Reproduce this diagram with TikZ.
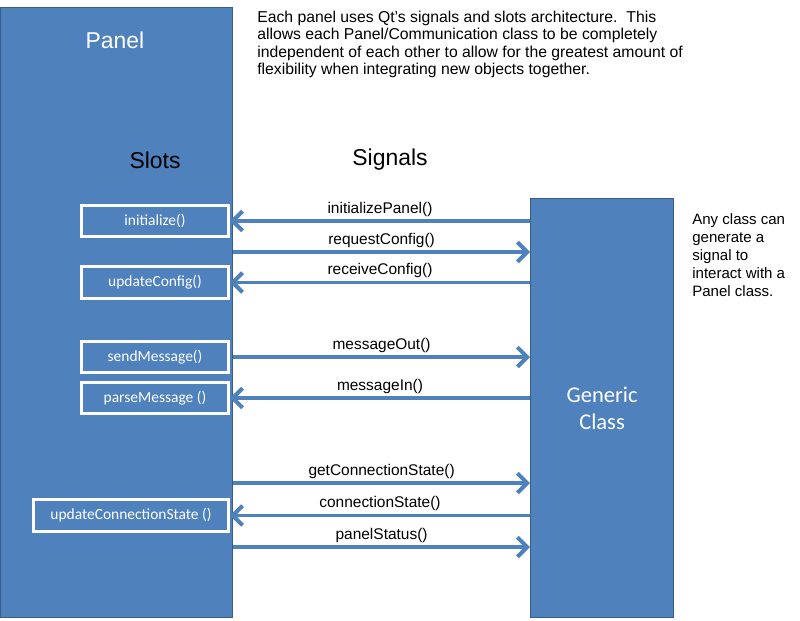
\documentclass[tikz,border=0pt]{standalone}
\usepackage{fontspec}
\setmainfont{Liberation Sans}
\newfontfamily\calibri{Carlito}
\usetikzlibrary{arrows.meta,positioning}
\definecolor{panelBlue}{RGB}{79,129,189}
\definecolor{panelEdge}{RGB}{56,93,138}

\begin{document}
\begin{tikzpicture}[x=0.025cm,y=-0.025cm,
    block/.style={draw=panelEdge, fill=panelBlue, line width=0.8pt,
      anchor=north west, inner sep=0pt},
    slotbox/.style={draw=white, fill=panelBlue, line width=2.2pt,
      minimum width=3.67cm, minimum height=0.79cm, inner sep=0pt,
      text=white, font=\calibri\fontsize{11}{13}\selectfont},
    sig/.style={panelBlue, line width=2.8pt,
      -{Straight Barb[length=7pt,width=14pt]}},
    siglabel/.style={midway, above=1pt, inner sep=1pt,
      text=black, font=\fontsize{11}{12}\selectfont},
    heading/.style={font=\fontsize{16.3}{19}\selectfont}]
  \useasboundingbox (0,0) rectangle (800,620);

  % the two classes
  \node[block, minimum width=5.8cm, minimum height=15.25cm] (panel) at (0,7) {};
  \node[block, minimum width=3.575cm, minimum height=10.475cm,
    text=white, align=center, font=\calibri\fontsize{16}{19}\selectfont]
    (generic) at (530,198) {Generic\\Class};

  \node[heading, text=white] (paneltitle) at (115,40) {Panel};
  \node[heading] (slots) at (155,160) {Slots};
  \node[heading] (signals) at (390,160) {Signals};

  \node[anchor=north west, inner sep=0pt, align=left,
    font=\fontsize{11.2}{12.3}\selectfont] (note) at (257,11)
    {Each panel uses Qt's signals and slots architecture.\ \ This\\
     allows each Panel/Communication class to be completely\\
     independent of each other to allow for the greatest amount of\\
     flexibility when integrating new objects together.};
  \node[anchor=north west, inner sep=0pt, align=left,
    font=\fontsize{10.7}{12.8}\selectfont] (anyclass) at (692,213)
    {Any class can\\generate a\\signal to\\interact with a\\Panel class.};

  % slots
  \node[slotbox] (init) at (155,221) {initialize()};
  \node[slotbox] (update) at (155,282.5) {updateConfig()};
  \node[slotbox] (send) at (155,357) {sendMessage()};
  \node[slotbox] (parse) at (155,398) {parseMessage ()};
  \node[slotbox, minimum width=4.87cm] (connstate) at (131,515.5)
    {updateConnectionState ()};

  % signals
  \draw[sig] (generic.west |- init.east) -- (init.east)
    node[siglabel] {initializePanel()};
  \draw[sig] (panel.east |- 0,252) -- (generic.west |- 0,252)
    node[siglabel] {requestConfig()};
  \draw[sig] (generic.west |- update.east) -- (update.east)
    node[siglabel] {receiveConfig()};
  \draw[sig] (panel.east |- send.east) -- (generic.west |- send.east)
    node[siglabel] {messageOut()};
  \draw[sig] (generic.west |- parse.east) -- (parse.east)
    node[siglabel] {messageIn()};
  \draw[sig] (panel.east |- 0,483) -- (generic.west |- 0,483)
    node[siglabel] {getConnectionState()};
  \draw[sig] (generic.west |- connstate.east) -- (connstate.east)
    node[siglabel] {connectionState()};
  \draw[sig] (panel.east |- 0,547) -- (generic.west |- 0,547)
    node[siglabel] {panelStatus()};
\end{tikzpicture}
\end{document}
